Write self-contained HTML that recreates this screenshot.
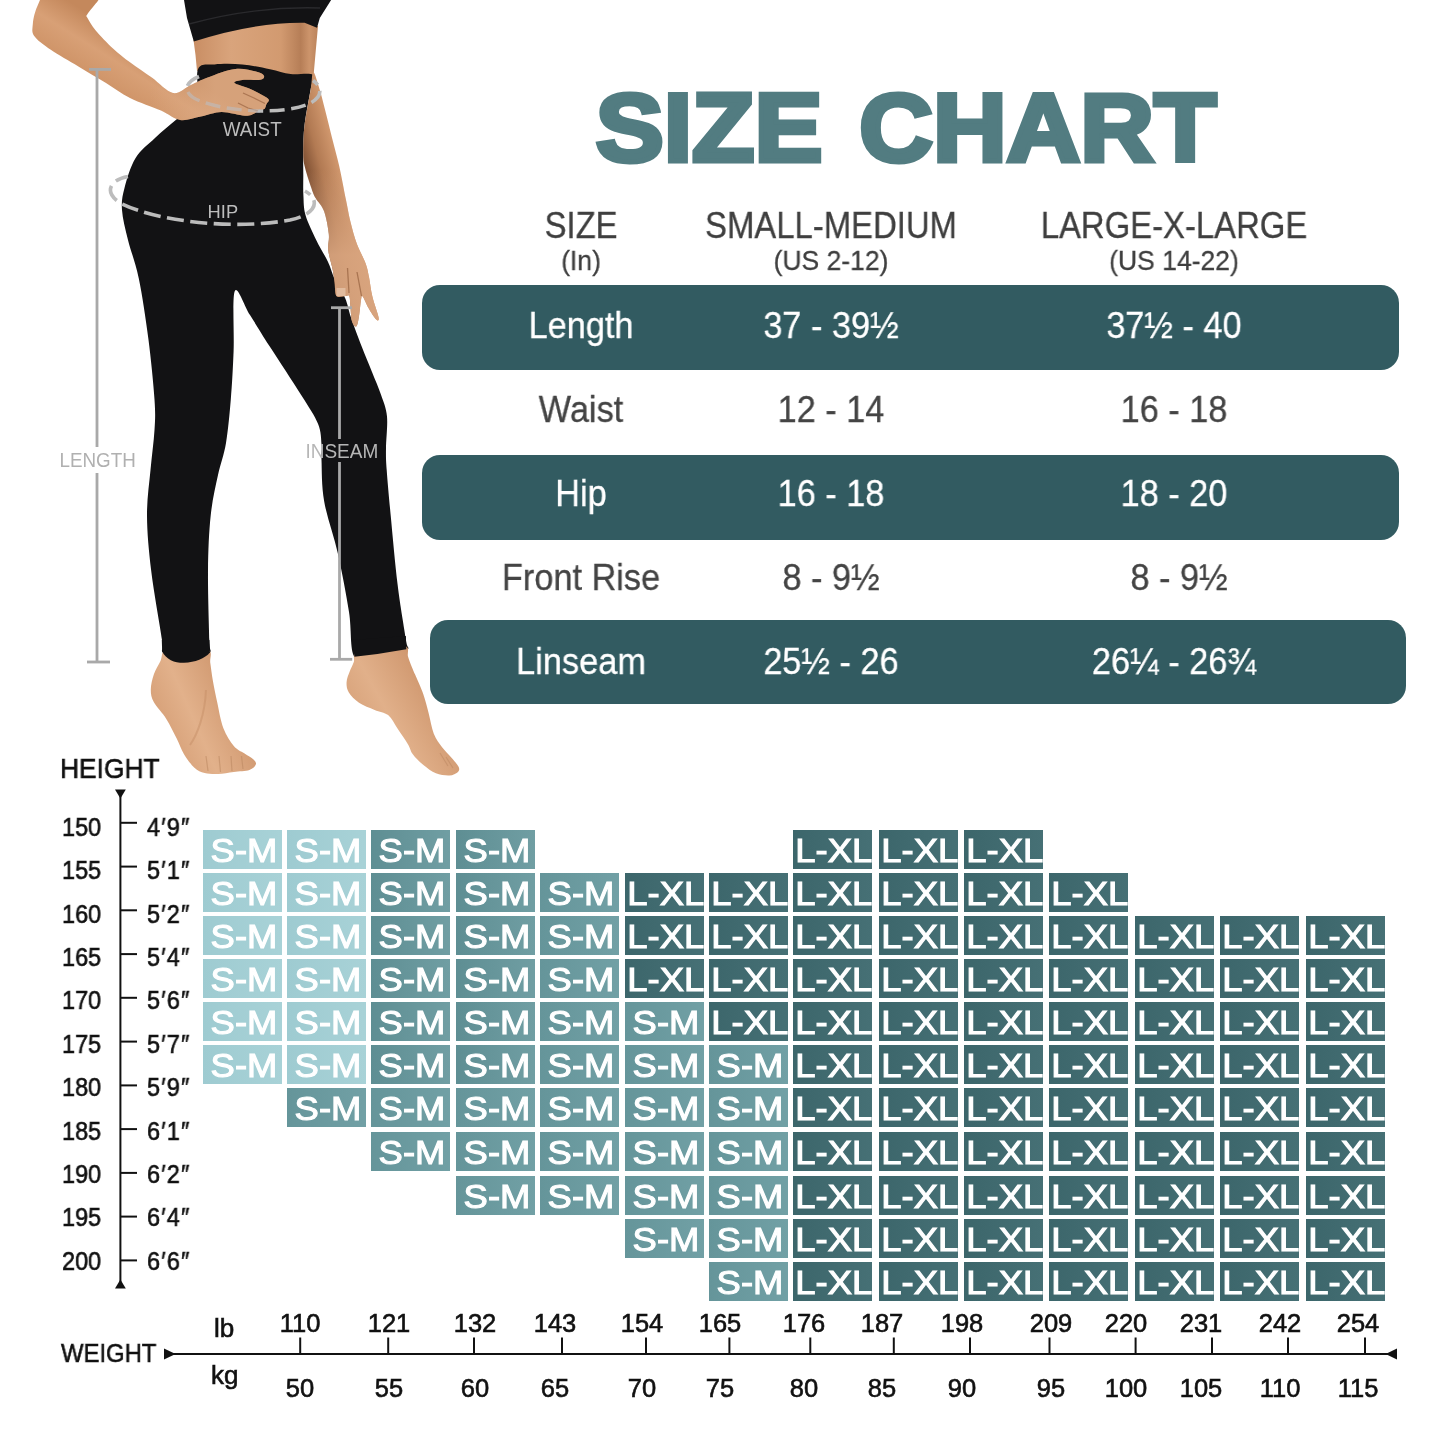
<!DOCTYPE html>
<html><head><meta charset="utf-8"><title>Size Chart</title>
<style>
*{margin:0;padding:0;box-sizing:border-box}
html,body{width:1445px;height:1445px;background:#fff;overflow:hidden}
body{position:relative;font-family:"Liberation Sans",sans-serif;}
.abs{position:absolute}
.t{position:absolute;white-space:nowrap;line-height:1;transform-origin:50% 50%;will-change:transform;}
.band{position:absolute;background:#325b61;border-radius:18px}
.c{position:absolute;will-change:transform;color:#fff;font-size:34px;line-height:41.4px;-webkit-text-stroke:1.1px #fff;letter-spacing:0;text-align:center;white-space:nowrap;overflow:hidden}
.c span{display:inline-block;transform:translateX(0.8px) scaleX(1.07)}
</style></head><body>

<svg class="abs" style="left:0;top:0;will-change:transform" width="500" height="800" viewBox="0 0 500 800">
<defs>
<linearGradient id="skA" gradientUnits="userSpaceOnUse" x1="80" y1="97" x2="120" y2="33"><stop offset="0" stop-color="#c08256"/><stop offset="0.3" stop-color="#cf9468"/><stop offset="0.65" stop-color="#d8a076"/><stop offset="1" stop-color="#c4885c"/></linearGradient>
<linearGradient id="skH" gradientUnits="userSpaceOnUse" x1="175" y1="120" x2="260" y2="70"><stop offset="0" stop-color="#cf9468"/><stop offset="0.5" stop-color="#dba57d"/><stop offset="1" stop-color="#d39a72"/></linearGradient>
<linearGradient id="skT" gradientUnits="userSpaceOnUse" x1="194" y1="0" x2="318" y2="0"><stop offset="0" stop-color="#c98e64"/><stop offset="0.3" stop-color="#d9a47c"/><stop offset="0.7" stop-color="#d29a70"/><stop offset="0.86" stop-color="#b67e57"/><stop offset="0.93" stop-color="#cc946b"/><stop offset="1" stop-color="#bb835b"/></linearGradient>
<linearGradient id="skR" gradientUnits="userSpaceOnUse" x1="303" y1="160" x2="345" y2="149"><stop offset="0" stop-color="#7f5033"/><stop offset="0.35" stop-color="#b27a53"/><stop offset="0.75" stop-color="#cf966c"/><stop offset="1" stop-color="#d8a27a"/></linearGradient>
<linearGradient id="skR2" gradientUnits="userSpaceOnUse" x1="328" y1="280" x2="375" y2="268"><stop offset="0" stop-color="#c18a63"/><stop offset="0.5" stop-color="#dca882"/><stop offset="1" stop-color="#cf976e"/></linearGradient>
<linearGradient id="skF" gradientUnits="userSpaceOnUse" x1="150" y1="730" x2="240" y2="690"><stop offset="0" stop-color="#d39b72"/><stop offset="0.45" stop-color="#e2b18b"/><stop offset="1" stop-color="#cd946b"/></linearGradient>
<linearGradient id="skG" gradientUnits="userSpaceOnUse" x1="350" y1="740" x2="440" y2="690"><stop offset="0" stop-color="#d49d74"/><stop offset="0.45" stop-color="#e1b08a"/><stop offset="1" stop-color="#cd946b"/></linearGradient>
<clipPath id="clipR"><rect x="295" y="60" width="100" height="172"/></clipPath>
<clipPath id="clipR2"><rect x="295" y="232" width="100" height="110"/></clipPath>
</defs>
<path d="M193.5,40.0L221.5,33.0L249.2,26.0L276.9,22.0L304.6,21.5L318.0,26.0L316.0,48.0L313.5,76.0L290.0,76.0L255.0,69.0L220.0,66.0L197.0,71.0L195.5,55.0Z" fill="url(#skT)"/>
<path d="M183.5,-3 L187,18 L193.8,41.5 Q255,22 304.6,22.8 L317,27.7 L319.8,18 L333,-3Z" fill="#121214"/>
<path d="M189,24 Q255,6 320,8" stroke="#2a2a2d" stroke-width="1.4" fill="none"/>
<path d="M198.0,69.2C200.9,62.4 207.2,65.2 214.6,64.4C222.0,63.6 233.1,63.6 242.3,64.4C251.5,65.2 261.9,67.6 270.0,69.2C278.1,70.8 283.5,73.1 290.7,74.0C297.9,74.9 309.6,72.4 313.0,74.8C316.4,77.2 312.2,80.3 310.8,88.6C309.4,96.9 305.9,114.0 304.6,124.6C303.3,135.2 303.4,143.8 303.2,152.2C303.0,160.6 303.3,167.8 303.3,175.0C303.3,182.2 303.0,188.9 303.4,195.6C303.8,202.3 303.4,207.6 305.5,215.0C307.6,222.4 312.5,232.2 316.2,240.0C319.9,247.8 324.7,255.0 327.8,261.5C330.9,268.0 331.7,272.8 334.6,278.9C337.5,285.0 342.5,291.9 345.2,298.3C347.9,304.8 348.3,309.6 351.0,317.6C353.7,325.6 358.1,337.2 361.6,346.3C365.1,355.4 368.8,363.9 372.0,372.0C375.2,380.1 378.5,387.3 381.0,394.7C383.5,402.1 386.2,407.6 387.0,416.5C387.8,425.4 386.1,439.1 386.0,448.0C385.9,456.9 385.9,458.8 386.7,470.0C387.5,481.2 388.9,496.3 390.7,515.4C392.5,534.5 395.1,563.8 397.6,584.6C400.1,605.4 404.4,629.2 405.9,640.0C407.3,650.8 411.2,646.9 406.3,649.2C401.4,651.5 385.4,652.6 376.7,653.9C368.0,655.2 359.0,663.8 354.4,656.8C349.8,649.8 351.7,629.1 349.0,612.0C346.3,594.9 342.1,572.4 338.0,554.0C333.9,535.6 326.9,517.2 324.2,501.5C321.4,485.8 321.9,469.4 321.5,460.0C321.1,450.6 322.2,451.0 321.6,445.0C321.0,439.0 321.4,432.2 318.0,423.8C314.6,415.4 309.1,407.6 301.0,394.7C292.9,381.8 278.1,359.6 269.6,346.3C261.1,333.0 255.8,324.2 250.0,315.0C244.2,305.8 237.5,285.0 234.8,291.0C232.1,297.0 234.3,332.9 233.6,351.0C232.9,369.1 232.1,384.2 230.8,399.5C229.5,414.8 228.1,430.4 226.0,443.0C223.9,455.6 220.6,462.9 218.0,475.0C215.4,487.1 212.4,499.4 210.7,515.4C209.0,531.4 208.2,549.9 208.0,570.7C207.8,591.5 209.0,626.4 209.3,640.0C209.6,653.6 212.0,649.2 209.9,652.5C207.8,655.8 201.7,658.3 197.0,660.0C192.3,661.7 186.4,662.8 181.9,662.5C177.4,662.2 173.3,659.9 170.0,658.0C166.7,656.1 163.5,654.4 162.2,651.4C160.9,648.4 163.8,653.5 162.0,640.0C160.2,626.5 153.7,591.5 151.2,570.7C148.7,549.9 147.1,532.2 147.0,515.4C146.9,498.6 149.2,484.2 150.5,470.0C151.8,455.8 153.8,441.8 154.5,430.0C155.2,418.2 155.5,414.7 154.5,399.5C153.5,384.3 151.0,359.2 148.4,339.0C145.8,318.8 142.2,294.9 138.8,278.4C135.4,261.9 130.8,251.4 128.0,240.0C125.2,228.6 122.6,218.7 122.0,210.0C121.4,201.3 122.2,196.7 124.5,188.0C126.8,179.3 130.5,166.3 135.6,158.0C140.7,149.7 148.1,144.5 155.0,138.0C161.9,131.5 170.0,124.5 177.0,119.0C184.0,113.5 193.5,113.3 197.0,105.0C200.5,96.7 195.1,76.0 198.0,69.2Z" fill="#121214"/>
<path d="M313.3,72.0C314.8,72.2 317.8,83.5 319.8,90.0C321.8,96.5 323.2,102.6 325.3,110.7C327.4,118.8 329.9,129.2 332.2,138.4C334.5,147.6 336.9,155.7 339.2,166.0C341.5,176.3 344.1,190.7 346.0,200.0C347.9,209.3 348.7,214.7 350.5,222.0C352.3,229.3 354.4,237.1 356.9,244.0C359.4,250.9 363.6,257.9 365.6,263.4C367.6,268.9 367.9,271.5 369.0,277.0C370.1,282.5 370.7,289.5 372.3,296.3C373.9,303.1 378.0,313.8 378.6,317.6C379.2,321.4 377.7,320.8 376.0,319.2C374.3,317.6 370.7,311.8 368.5,308.0C366.3,304.2 363.9,297.8 362.7,296.5C361.4,295.2 361.6,296.5 361.0,300.0C360.4,303.5 359.6,313.2 358.8,317.6C358.0,322.0 357.3,325.9 356.2,326.5C355.1,327.1 353.0,324.9 352.0,321.5C351.0,318.1 350.8,310.2 350.4,306.0C349.9,301.8 350.1,297.7 349.3,296.0C348.5,294.3 347.5,296.0 345.4,296.0C343.3,296.0 338.3,298.2 336.5,296.0C334.7,293.8 335.2,287.3 334.6,282.8C334.0,278.3 333.7,274.7 332.6,269.2C331.5,263.7 328.8,255.7 328.2,249.8C327.6,243.9 329.5,240.5 328.8,234.0C328.1,227.5 326.2,217.0 324.0,211.0C321.8,205.0 317.8,202.0 315.6,198.0C313.4,194.0 312.8,192.2 311.0,186.9C309.2,181.6 305.9,171.8 304.6,166.0C303.3,160.2 303.2,159.1 303.2,152.2C303.2,145.3 303.3,135.2 304.6,124.6C305.9,114.0 309.4,97.4 310.8,88.6C312.2,79.8 311.8,71.8 313.3,72.0Z" fill="url(#skR)"/>
<linearGradient id="skRf" gradientUnits="userSpaceOnUse" x1="0" y1="170" x2="0" y2="255"><stop offset="0" stop-color="#d9a57f" stop-opacity="0"/><stop offset="1" stop-color="#d9a57f" stop-opacity="0.9"/></linearGradient>
<path d="M313.3,72.0C314.8,72.2 317.8,83.5 319.8,90.0C321.8,96.5 323.2,102.6 325.3,110.7C327.4,118.8 329.9,129.2 332.2,138.4C334.5,147.6 336.9,155.7 339.2,166.0C341.5,176.3 344.1,190.7 346.0,200.0C347.9,209.3 348.7,214.7 350.5,222.0C352.3,229.3 354.4,237.1 356.9,244.0C359.4,250.9 363.6,257.9 365.6,263.4C367.6,268.9 367.9,271.5 369.0,277.0C370.1,282.5 370.7,289.5 372.3,296.3C373.9,303.1 378.0,313.8 378.6,317.6C379.2,321.4 377.7,320.8 376.0,319.2C374.3,317.6 370.7,311.8 368.5,308.0C366.3,304.2 363.9,297.8 362.7,296.5C361.4,295.2 361.6,296.5 361.0,300.0C360.4,303.5 359.6,313.2 358.8,317.6C358.0,322.0 357.3,325.9 356.2,326.5C355.1,327.1 353.0,324.9 352.0,321.5C351.0,318.1 350.8,310.2 350.4,306.0C349.9,301.8 350.1,297.7 349.3,296.0C348.5,294.3 347.5,296.0 345.4,296.0C343.3,296.0 338.3,298.2 336.5,296.0C334.7,293.8 335.2,287.3 334.6,282.8C334.0,278.3 333.7,274.7 332.6,269.2C331.5,263.7 328.8,255.7 328.2,249.8C327.6,243.9 329.5,240.5 328.8,234.0C328.1,227.5 326.2,217.0 324.0,211.0C321.8,205.0 317.8,202.0 315.6,198.0C313.4,194.0 312.8,192.2 311.0,186.9C309.2,181.6 305.9,171.8 304.6,166.0C303.3,160.2 303.2,159.1 303.2,152.2C303.2,145.3 303.3,135.2 304.6,124.6C305.9,114.0 309.4,97.4 310.8,88.6C312.2,79.8 311.8,71.8 313.3,72.0Z" fill="url(#skRf)"/>
<path d="M347.5,268 L349,293 M357,272 L361.5,296" stroke="#9a6543" stroke-width="1.3" fill="none" opacity="0.75"/>
<path d="M336.5,288 L345.5,288 L345.5,296 L336.5,296Z" fill="#e6c3a8" opacity="0.8"/>
<path d="M199,76.5 C181,84 184,96 203,102 C232,112.5 282,114 306,105 C322,99 324,88 313,80.5" stroke="#bcbcbc" stroke-width="3.6" fill="none" stroke-dasharray="15 6.5"/>
<path d="M47.0,-16.0C35.7,-13.5 42.4,-5.7 40.4,-1.0C38.4,3.7 36.5,7.8 35.2,12.0C33.9,16.2 33.0,20.2 32.8,24.2C32.6,28.2 31.2,31.7 34.2,36.0C37.2,40.3 43.4,44.7 50.8,49.8C58.2,54.9 69.2,60.9 78.4,66.4C87.6,71.9 97.4,77.7 106.0,83.0C114.6,88.3 120.8,93.4 130.0,98.0C139.2,102.6 152.7,106.9 161.0,110.6C169.3,114.3 173.4,119.0 180.0,120.0C186.6,121.0 193.9,117.9 200.8,116.6C207.7,115.3 214.1,112.1 221.5,112.0C228.9,111.9 239.5,115.6 245.0,115.8C250.5,116.0 252.4,114.2 254.7,113.2C257.0,112.2 257.4,110.2 259.0,109.5C260.6,108.8 263.1,109.8 264.4,108.9C265.6,108.0 265.8,105.5 266.5,104.0C267.2,102.5 269.4,101.1 268.8,99.7C268.2,98.3 266.3,97.3 263.0,95.5C259.7,93.7 253.9,90.7 249.2,88.6C244.4,86.5 235.7,84.4 234.5,83.0C233.3,81.6 238.0,80.5 242.3,80.0C246.6,79.5 256.7,80.5 260.3,79.8C263.9,79.1 264.5,77.3 264.0,76.0C263.5,74.7 262.3,73.2 257.5,72.0C252.7,70.8 243.7,68.1 235.4,69.0C227.1,69.9 215.1,74.8 207.7,77.5C200.3,80.2 196.8,82.4 191.0,85.0C185.2,87.6 179.5,94.2 173.0,93.0C166.5,91.8 159.0,82.7 151.8,77.6C144.6,72.5 136.5,67.2 130.0,62.3C123.5,57.4 118.7,53.7 113.0,48.4C107.3,43.1 100.0,35.5 95.7,30.4C91.5,25.3 88.9,20.7 87.5,18.0C86.1,15.3 85.5,17.2 87.5,14.0C89.5,10.8 95.8,4.0 99.2,-1.0C102.6,-6.0 116.7,-13.5 108.0,-16.0C99.3,-18.5 58.3,-18.5 47.0,-16.0Z" fill="url(#skA)"/>
<linearGradient id="skHf" gradientUnits="userSpaceOnUse" x1="150" y1="0" x2="215" y2="0"><stop offset="0" stop-color="#dcaa84" stop-opacity="0"/><stop offset="1" stop-color="#dcaa84" stop-opacity="0.75"/></linearGradient>
<path d="M47.0,-16.0C35.7,-13.5 42.4,-5.7 40.4,-1.0C38.4,3.7 36.5,7.8 35.2,12.0C33.9,16.2 33.0,20.2 32.8,24.2C32.6,28.2 31.2,31.7 34.2,36.0C37.2,40.3 43.4,44.7 50.8,49.8C58.2,54.9 69.2,60.9 78.4,66.4C87.6,71.9 97.4,77.7 106.0,83.0C114.6,88.3 120.8,93.4 130.0,98.0C139.2,102.6 152.7,106.9 161.0,110.6C169.3,114.3 173.4,119.0 180.0,120.0C186.6,121.0 193.9,117.9 200.8,116.6C207.7,115.3 214.1,112.1 221.5,112.0C228.9,111.9 239.5,115.6 245.0,115.8C250.5,116.0 252.4,114.2 254.7,113.2C257.0,112.2 257.4,110.2 259.0,109.5C260.6,108.8 263.1,109.8 264.4,108.9C265.6,108.0 265.8,105.5 266.5,104.0C267.2,102.5 269.4,101.1 268.8,99.7C268.2,98.3 266.3,97.3 263.0,95.5C259.7,93.7 253.9,90.7 249.2,88.6C244.4,86.5 235.7,84.4 234.5,83.0C233.3,81.6 238.0,80.5 242.3,80.0C246.6,79.5 256.7,80.5 260.3,79.8C263.9,79.1 264.5,77.3 264.0,76.0C263.5,74.7 262.3,73.2 257.5,72.0C252.7,70.8 243.7,68.1 235.4,69.0C227.1,69.9 215.1,74.8 207.7,77.5C200.3,80.2 196.8,82.4 191.0,85.0C185.2,87.6 179.5,94.2 173.0,93.0C166.5,91.8 159.0,82.7 151.8,77.6C144.6,72.5 136.5,67.2 130.0,62.3C123.5,57.4 118.7,53.7 113.0,48.4C107.3,43.1 100.0,35.5 95.7,30.4C91.5,25.3 88.9,20.7 87.5,18.0C86.1,15.3 85.5,17.2 87.5,14.0C89.5,10.8 95.8,4.0 99.2,-1.0C102.6,-6.0 116.7,-13.5 108.0,-16.0C99.3,-18.5 58.3,-18.5 47.0,-16.0Z" fill="url(#skHf)"/>
<path d="M243,93 L254,98 L265,103.5 M238,103 L248,108 L258,111" stroke="#9a6442" stroke-width="1.3" fill="none" opacity="0.7"/>
<clipPath id="clipD"><rect x="186" y="84" width="74" height="32"/></clipPath>
<path d="M199,76.5 C181,84 184,96 203,102 C232,112.5 282,114 306,105 C322,99 324,88 313,80.5" stroke="#b9c0c6" stroke-width="3.4" fill="none" stroke-dasharray="15 6.5" opacity="0.55" clip-path="url(#clipD)"/>
<path d="M165.0,650.0C168.6,648.5 174.8,652.0 182.0,652.0C189.2,652.0 203.6,648.2 208.3,650.0C213.0,651.8 209.5,657.8 210.3,663.0C211.1,668.2 211.8,675.0 213.0,681.5C214.2,688.0 215.5,694.5 217.2,702.3C218.9,710.1 220.6,720.9 223.4,728.2C226.2,735.5 230.3,741.7 233.8,745.9C237.3,750.1 240.9,751.0 244.2,753.2C247.5,755.5 251.6,757.5 253.5,759.4C255.4,761.3 256.5,762.8 255.8,764.6C255.1,766.4 253.1,768.8 249.4,770.0C245.7,771.2 239.0,771.3 233.8,772.0C228.6,772.7 223.0,773.8 218.2,774.0C213.3,774.2 208.7,774.0 204.7,773.0C200.7,772.0 197.8,770.8 194.4,767.7C191.0,764.6 186.9,759.1 184.0,754.2C181.1,749.4 179.6,744.5 176.7,738.6C173.8,732.7 170.1,725.0 166.3,718.9C162.5,712.8 156.5,707.1 153.9,702.3C151.3,697.4 150.8,694.5 150.8,689.8C150.8,685.1 152.3,679.1 153.9,674.3C155.5,669.5 158.7,665.0 160.5,661.0C162.3,657.0 161.4,651.5 165.0,650.0Z" fill="url(#skF)"/>
<path d="M206,756 L208,771 M219,756 L220.5,772 M231,756 L232,771 M241.5,756 L243,769" stroke="#b98660" stroke-width="1.2" fill="none" opacity="0.55"/>
<path d="M190,745 C197,735 205,715 206,690" stroke="#c38b63" stroke-width="2" fill="none" opacity="0.45"/>
<path d="M356.0,652.0C359.9,649.8 368.8,650.0 377.0,649.0C385.2,648.0 399.8,644.8 405.0,646.0C410.2,647.2 407.0,653.3 408.0,656.5C409.0,659.7 409.8,662.0 411.0,665.0C412.2,668.0 413.0,669.7 415.1,674.6C417.2,679.5 421.1,688.0 423.4,694.4C425.6,700.8 426.9,706.4 428.6,713.0C430.3,719.6 431.6,728.1 433.8,733.8C436.1,739.5 439.2,743.3 442.1,747.3C445.1,751.3 448.7,754.4 451.5,757.7C454.3,761.0 457.7,764.6 458.7,767.0C459.7,769.4 459.2,770.8 457.7,772.2C456.1,773.6 453.0,775.3 449.4,775.5C445.8,775.7 440.2,775.0 435.9,773.3C431.6,771.5 427.2,768.1 423.4,765.0C419.6,761.9 415.6,758.1 413.0,754.6C410.4,751.1 410.5,748.5 407.9,744.2C405.3,739.9 400.8,733.5 397.5,728.6C394.2,723.8 391.9,718.2 388.1,715.1C384.3,712.0 379.5,712.0 374.6,709.9C369.8,707.8 363.3,705.6 359.0,702.7C354.7,699.8 350.8,695.8 348.7,692.3C346.6,688.8 346.4,685.4 346.6,681.9C346.8,678.4 348.5,674.8 349.7,671.5C350.9,668.2 352.8,665.2 353.8,662.0C354.9,658.8 352.1,654.2 356.0,652.0Z" fill="url(#skG)"/>
<path d="M440,753 L448,766 M446,757 L453,768" stroke="#b98660" stroke-width="1.1" fill="none" opacity="0.5"/>
<path d="M161.8,640 L209.4,640 L209.9,652.5 C205,658.5 195,662.3 184,662.8 C175,663 166,659.5 162.2,651.4Z" fill="#121214"/>
<path d="M352.6,640 L405.9,636 L406.3,649.2 Q380,654 354.4,656.8Z" fill="#121214"/>
<g stroke="#a9a9a9" stroke-width="2.8" fill="none">
<line x1="97" y1="69" x2="97" y2="447"/><line x1="97" y1="473" x2="97" y2="662"/>
<line x1="89" y1="69.4" x2="111" y2="69.4"/><line x1="87" y1="662" x2="110" y2="662"/>
<line x1="339.5" y1="307.5" x2="339.5" y2="439"/><line x1="339.5" y1="462" x2="339.5" y2="659"/>
<line x1="331" y1="307.7" x2="352" y2="307.7"/><line x1="330" y1="659.3" x2="352.2" y2="659.3"/>
</g>
<g stroke="#bcbcbc" stroke-width="3.6" fill="none" stroke-dasharray="17 6.5">
<path d="M128,176.5 C108,180 104,194 122,204 C160,222 235,230 290,220 C318,214 320,199 305,191" stroke-dashoffset="4"/>
</g>
<text x="222.8" y="135.6" font-family="Liberation Sans, sans-serif" font-size="19.3" fill="#bdbdbd" transform="translate(222.8,0) scale(0.975,1) translate(-222.8,0)" text-anchor="start">WAIST</text>
<text x="207.6" y="218.1" font-family="Liberation Sans, sans-serif" font-size="18.8" fill="#bdbdbd" transform="translate(207.6,0) scale(0.975,1) translate(-207.6,0)" text-anchor="start">HIP</text>
<text x="59.5" y="466.6" font-family="Liberation Sans, sans-serif" font-size="19.3" fill="#b0b0b0" transform="translate(59.5,0) scale(0.975,1) translate(-59.5,0)" text-anchor="start">LENGTH</text>
<text x="305.4" y="457.8" font-family="Liberation Sans, sans-serif" font-size="19.5" fill="#b6b6b6" transform="translate(305.4,0) scale(0.975,1) translate(-305.4,0)" text-anchor="start">INSEAM</text>
</svg>
<div class="t" id="title" style="left:593px;top:79px;width:626px;text-align:center;font-size:97px;font-weight:bold;color:#527c81;-webkit-text-stroke:5px #527c81;word-spacing:8px;transform:scaleX(1.052)">SIZE CHART</div>
<div class="t" style="left:281px;top:208.1px;width:600px;text-align:center;font-size:36.5px;color:#3f3f3f;transform:scaleX(0.9);-webkit-text-stroke:0.3px currentColor;">SIZE</div>
<div class="t" style="left:281px;top:246.2px;width:600px;text-align:center;font-size:28.5px;color:#3f3f3f;transform:scaleX(0.93);-webkit-text-stroke:0.3px currentColor;">(In)</div>
<div class="t" style="left:531px;top:208.1px;width:600px;text-align:center;font-size:36.5px;color:#3f3f3f;transform:scaleX(0.9);-webkit-text-stroke:0.3px currentColor;">SMALL-MEDIUM</div>
<div class="t" style="left:531px;top:246.2px;width:600px;text-align:center;font-size:28.5px;color:#3f3f3f;transform:scaleX(0.93);-webkit-text-stroke:0.3px currentColor;">(US 2-12)</div>
<div class="t" style="left:874px;top:208.1px;width:600px;text-align:center;font-size:36.5px;color:#3f3f3f;transform:scaleX(0.9);-webkit-text-stroke:0.3px currentColor;">LARGE-X-LARGE</div>
<div class="t" style="left:874px;top:246.2px;width:600px;text-align:center;font-size:28.5px;color:#3f3f3f;transform:scaleX(0.93);-webkit-text-stroke:0.3px currentColor;">(US 14-22)</div>
<div class="band" style="left:422px;top:285px;width:977px;height:85px"></div>
<div class="band" style="left:422px;top:455px;width:977px;height:84.5px"></div>
<div class="band" style="left:430px;top:619.5px;width:976px;height:84.5px"></div>
<div class="t" style="left:281px;top:307.4px;width:600px;text-align:center;font-size:37.3px;color:#fff;transform:scaleX(0.92);-webkit-text-stroke:0.3px currentColor;">Length</div>
<div class="t" style="left:531px;top:307.4px;width:600px;text-align:center;font-size:37.3px;color:#fff;transform:scaleX(0.92);-webkit-text-stroke:0.3px currentColor;">37 - 39½</div>
<div class="t" style="left:874px;top:307.4px;width:600px;text-align:center;font-size:37.3px;color:#fff;transform:scaleX(0.92);-webkit-text-stroke:0.3px currentColor;">37½ - 40</div>
<div class="t" style="left:281px;top:391.4px;width:600px;text-align:center;font-size:37.3px;color:#444;transform:scaleX(0.92);-webkit-text-stroke:0.3px currentColor;">Waist</div>
<div class="t" style="left:531px;top:391.4px;width:600px;text-align:center;font-size:37.3px;color:#444;transform:scaleX(0.92);-webkit-text-stroke:0.3px currentColor;">12 - 14</div>
<div class="t" style="left:874px;top:391.4px;width:600px;text-align:center;font-size:37.3px;color:#444;transform:scaleX(0.92);-webkit-text-stroke:0.3px currentColor;">16 - 18</div>
<div class="t" style="left:281px;top:475.4px;width:600px;text-align:center;font-size:37.3px;color:#fff;transform:scaleX(0.92);-webkit-text-stroke:0.3px currentColor;">Hip</div>
<div class="t" style="left:531px;top:475.4px;width:600px;text-align:center;font-size:37.3px;color:#fff;transform:scaleX(0.92);-webkit-text-stroke:0.3px currentColor;">16 - 18</div>
<div class="t" style="left:874px;top:475.4px;width:600px;text-align:center;font-size:37.3px;color:#fff;transform:scaleX(0.92);-webkit-text-stroke:0.3px currentColor;">18 - 20</div>
<div class="t" style="left:281px;top:559.4px;width:600px;text-align:center;font-size:37.3px;color:#444;transform:scaleX(0.92);-webkit-text-stroke:0.3px currentColor;">Front Rise</div>
<div class="t" style="left:531px;top:559.4px;width:600px;text-align:center;font-size:37.3px;color:#444;transform:scaleX(0.92);-webkit-text-stroke:0.3px currentColor;">8 - 9½</div>
<div class="t" style="left:879px;top:559.4px;width:600px;text-align:center;font-size:37.3px;color:#444;transform:scaleX(0.92);-webkit-text-stroke:0.3px currentColor;">8 - 9½</div>
<div class="t" style="left:281px;top:643.4px;width:600px;text-align:center;font-size:37.3px;color:#fff;transform:scaleX(0.92);-webkit-text-stroke:0.3px currentColor;">Linseam</div>
<div class="t" style="left:531px;top:643.4px;width:600px;text-align:center;font-size:37.3px;color:#fff;transform:scaleX(0.92);-webkit-text-stroke:0.3px currentColor;">25½ - 26</div>
<div class="t" style="left:874px;top:643.4px;width:600px;text-align:center;font-size:37.3px;color:#fff;transform:scaleX(0.92);-webkit-text-stroke:0.3px currentColor;">26¼ - 26¾</div>
<div class="c" style="left:202.5px;top:830.4px;width:79.4px;height:38.9px;background:linear-gradient(90deg,#9ecbd1,#a8d2d7)"><span>S-M</span></div>
<div class="c" style="left:287.2px;top:830.4px;width:79.4px;height:38.9px;background:linear-gradient(90deg,#9ecbd1,#a8d2d7)"><span>S-M</span></div>
<div class="c" style="left:371.3px;top:830.4px;width:79.4px;height:38.9px;background:linear-gradient(90deg,#5e8e93,#709ea3)"><span>S-M</span></div>
<div class="c" style="left:456.0px;top:830.4px;width:79.4px;height:38.9px;background:linear-gradient(90deg,#5e8e93,#709ea3)"><span>S-M</span></div>
<div class="c" style="left:793.2px;top:830.4px;width:79.4px;height:38.9px;background:linear-gradient(90deg,#3c666b,#467075)"><span>L-XL</span></div>
<div class="c" style="left:878.7px;top:830.4px;width:79.4px;height:38.9px;background:linear-gradient(90deg,#3c666b,#467075)"><span>L-XL</span></div>
<div class="c" style="left:963.9px;top:830.4px;width:79.4px;height:38.9px;background:linear-gradient(90deg,#3c666b,#467075)"><span>L-XL</span></div>
<div class="c" style="left:202.5px;top:873.1px;width:79.4px;height:38.9px;background:linear-gradient(90deg,#9ecbd1,#a8d2d7)"><span>S-M</span></div>
<div class="c" style="left:287.2px;top:873.1px;width:79.4px;height:38.9px;background:linear-gradient(90deg,#9ecbd1,#a8d2d7)"><span>S-M</span></div>
<div class="c" style="left:371.3px;top:873.1px;width:79.4px;height:38.9px;background:linear-gradient(90deg,#5e8e93,#709ea3)"><span>S-M</span></div>
<div class="c" style="left:456.0px;top:873.1px;width:79.4px;height:38.9px;background:linear-gradient(90deg,#5e8e93,#709ea3)"><span>S-M</span></div>
<div class="c" style="left:540.0px;top:873.1px;width:79.4px;height:38.9px;background:linear-gradient(90deg,#65959a,#71a0a5)"><span>S-M</span></div>
<div class="c" style="left:624.6px;top:873.1px;width:79.4px;height:38.9px;background:linear-gradient(90deg,#3c666b,#467075)"><span>L-XL</span></div>
<div class="c" style="left:708.6px;top:873.1px;width:79.4px;height:38.9px;background:linear-gradient(90deg,#3c666b,#467075)"><span>L-XL</span></div>
<div class="c" style="left:793.2px;top:873.1px;width:79.4px;height:38.9px;background:linear-gradient(90deg,#3c666b,#467075)"><span>L-XL</span></div>
<div class="c" style="left:878.7px;top:873.1px;width:79.4px;height:38.9px;background:linear-gradient(90deg,#3c666b,#467075)"><span>L-XL</span></div>
<div class="c" style="left:963.9px;top:873.1px;width:79.4px;height:38.9px;background:linear-gradient(90deg,#3c666b,#467075)"><span>L-XL</span></div>
<div class="c" style="left:1049.4px;top:873.1px;width:79.4px;height:38.9px;background:linear-gradient(90deg,#3c666b,#467075)"><span>L-XL</span></div>
<div class="c" style="left:202.5px;top:916.1px;width:79.4px;height:38.9px;background:linear-gradient(90deg,#9ecbd1,#a8d2d7)"><span>S-M</span></div>
<div class="c" style="left:287.2px;top:916.1px;width:79.4px;height:38.9px;background:linear-gradient(90deg,#9ecbd1,#a8d2d7)"><span>S-M</span></div>
<div class="c" style="left:371.3px;top:916.1px;width:79.4px;height:38.9px;background:linear-gradient(90deg,#5e8e93,#709ea3)"><span>S-M</span></div>
<div class="c" style="left:456.0px;top:916.1px;width:79.4px;height:38.9px;background:linear-gradient(90deg,#5e8e93,#709ea3)"><span>S-M</span></div>
<div class="c" style="left:540.0px;top:916.1px;width:79.4px;height:38.9px;background:linear-gradient(90deg,#65959a,#71a0a5)"><span>S-M</span></div>
<div class="c" style="left:624.6px;top:916.1px;width:79.4px;height:38.9px;background:linear-gradient(90deg,#3c666b,#467075)"><span>L-XL</span></div>
<div class="c" style="left:708.6px;top:916.1px;width:79.4px;height:38.9px;background:linear-gradient(90deg,#3c666b,#467075)"><span>L-XL</span></div>
<div class="c" style="left:793.2px;top:916.1px;width:79.4px;height:38.9px;background:linear-gradient(90deg,#3c666b,#467075)"><span>L-XL</span></div>
<div class="c" style="left:878.7px;top:916.1px;width:79.4px;height:38.9px;background:linear-gradient(90deg,#3c666b,#467075)"><span>L-XL</span></div>
<div class="c" style="left:963.9px;top:916.1px;width:79.4px;height:38.9px;background:linear-gradient(90deg,#3c666b,#467075)"><span>L-XL</span></div>
<div class="c" style="left:1049.4px;top:916.1px;width:79.4px;height:38.9px;background:linear-gradient(90deg,#3c666b,#467075)"><span>L-XL</span></div>
<div class="c" style="left:1135.3px;top:916.1px;width:79.4px;height:38.9px;background:linear-gradient(90deg,#3c666b,#467075)"><span>L-XL</span></div>
<div class="c" style="left:1220.0px;top:916.1px;width:79.4px;height:38.9px;background:linear-gradient(90deg,#3c666b,#467075)"><span>L-XL</span></div>
<div class="c" style="left:1305.6px;top:916.1px;width:79.4px;height:38.9px;background:linear-gradient(90deg,#3c666b,#467075)"><span>L-XL</span></div>
<div class="c" style="left:202.5px;top:958.8px;width:79.4px;height:38.9px;background:linear-gradient(90deg,#9ecbd1,#a8d2d7)"><span>S-M</span></div>
<div class="c" style="left:287.2px;top:958.8px;width:79.4px;height:38.9px;background:linear-gradient(90deg,#9ecbd1,#a8d2d7)"><span>S-M</span></div>
<div class="c" style="left:371.3px;top:958.8px;width:79.4px;height:38.9px;background:linear-gradient(90deg,#5e8e93,#709ea3)"><span>S-M</span></div>
<div class="c" style="left:456.0px;top:958.8px;width:79.4px;height:38.9px;background:linear-gradient(90deg,#5e8e93,#709ea3)"><span>S-M</span></div>
<div class="c" style="left:540.0px;top:958.8px;width:79.4px;height:38.9px;background:linear-gradient(90deg,#65959a,#71a0a5)"><span>S-M</span></div>
<div class="c" style="left:624.6px;top:958.8px;width:79.4px;height:38.9px;background:linear-gradient(90deg,#3c666b,#467075)"><span>L-XL</span></div>
<div class="c" style="left:708.6px;top:958.8px;width:79.4px;height:38.9px;background:linear-gradient(90deg,#3c666b,#467075)"><span>L-XL</span></div>
<div class="c" style="left:793.2px;top:958.8px;width:79.4px;height:38.9px;background:linear-gradient(90deg,#3c666b,#467075)"><span>L-XL</span></div>
<div class="c" style="left:878.7px;top:958.8px;width:79.4px;height:38.9px;background:linear-gradient(90deg,#3c666b,#467075)"><span>L-XL</span></div>
<div class="c" style="left:963.9px;top:958.8px;width:79.4px;height:38.9px;background:linear-gradient(90deg,#3c666b,#467075)"><span>L-XL</span></div>
<div class="c" style="left:1049.4px;top:958.8px;width:79.4px;height:38.9px;background:linear-gradient(90deg,#3c666b,#467075)"><span>L-XL</span></div>
<div class="c" style="left:1135.3px;top:958.8px;width:79.4px;height:38.9px;background:linear-gradient(90deg,#3c666b,#467075)"><span>L-XL</span></div>
<div class="c" style="left:1220.0px;top:958.8px;width:79.4px;height:38.9px;background:linear-gradient(90deg,#3c666b,#467075)"><span>L-XL</span></div>
<div class="c" style="left:1305.6px;top:958.8px;width:79.4px;height:38.9px;background:linear-gradient(90deg,#3c666b,#467075)"><span>L-XL</span></div>
<div class="c" style="left:202.5px;top:1002.2px;width:79.4px;height:38.9px;background:linear-gradient(90deg,#9ecbd1,#a8d2d7)"><span>S-M</span></div>
<div class="c" style="left:287.2px;top:1002.2px;width:79.4px;height:38.9px;background:linear-gradient(90deg,#9ecbd1,#a8d2d7)"><span>S-M</span></div>
<div class="c" style="left:371.3px;top:1002.2px;width:79.4px;height:38.9px;background:linear-gradient(90deg,#5e8e93,#709ea3)"><span>S-M</span></div>
<div class="c" style="left:456.0px;top:1002.2px;width:79.4px;height:38.9px;background:linear-gradient(90deg,#5e8e93,#709ea3)"><span>S-M</span></div>
<div class="c" style="left:540.0px;top:1002.2px;width:79.4px;height:38.9px;background:linear-gradient(90deg,#65959a,#71a0a5)"><span>S-M</span></div>
<div class="c" style="left:624.6px;top:1002.2px;width:79.4px;height:38.9px;background:linear-gradient(90deg,#65959a,#71a0a5)"><span>S-M</span></div>
<div class="c" style="left:708.6px;top:1002.2px;width:79.4px;height:38.9px;background:linear-gradient(90deg,#3c666b,#467075)"><span>L-XL</span></div>
<div class="c" style="left:793.2px;top:1002.2px;width:79.4px;height:38.9px;background:linear-gradient(90deg,#3c666b,#467075)"><span>L-XL</span></div>
<div class="c" style="left:878.7px;top:1002.2px;width:79.4px;height:38.9px;background:linear-gradient(90deg,#3c666b,#467075)"><span>L-XL</span></div>
<div class="c" style="left:963.9px;top:1002.2px;width:79.4px;height:38.9px;background:linear-gradient(90deg,#3c666b,#467075)"><span>L-XL</span></div>
<div class="c" style="left:1049.4px;top:1002.2px;width:79.4px;height:38.9px;background:linear-gradient(90deg,#3c666b,#467075)"><span>L-XL</span></div>
<div class="c" style="left:1135.3px;top:1002.2px;width:79.4px;height:38.9px;background:linear-gradient(90deg,#3c666b,#467075)"><span>L-XL</span></div>
<div class="c" style="left:1220.0px;top:1002.2px;width:79.4px;height:38.9px;background:linear-gradient(90deg,#3c666b,#467075)"><span>L-XL</span></div>
<div class="c" style="left:1305.6px;top:1002.2px;width:79.4px;height:38.9px;background:linear-gradient(90deg,#3c666b,#467075)"><span>L-XL</span></div>
<div class="c" style="left:202.5px;top:1044.8px;width:79.4px;height:38.9px;background:linear-gradient(90deg,#9ecbd1,#a8d2d7)"><span>S-M</span></div>
<div class="c" style="left:287.2px;top:1044.8px;width:79.4px;height:38.9px;background:linear-gradient(90deg,#9ecbd1,#a8d2d7)"><span>S-M</span></div>
<div class="c" style="left:371.3px;top:1044.8px;width:79.4px;height:38.9px;background:linear-gradient(90deg,#5e8e93,#709ea3)"><span>S-M</span></div>
<div class="c" style="left:456.0px;top:1044.8px;width:79.4px;height:38.9px;background:linear-gradient(90deg,#5e8e93,#709ea3)"><span>S-M</span></div>
<div class="c" style="left:540.0px;top:1044.8px;width:79.4px;height:38.9px;background:linear-gradient(90deg,#65959a,#71a0a5)"><span>S-M</span></div>
<div class="c" style="left:624.6px;top:1044.8px;width:79.4px;height:38.9px;background:linear-gradient(90deg,#65959a,#71a0a5)"><span>S-M</span></div>
<div class="c" style="left:708.6px;top:1044.8px;width:79.4px;height:38.9px;background:linear-gradient(90deg,#65959a,#71a0a5)"><span>S-M</span></div>
<div class="c" style="left:793.2px;top:1044.8px;width:79.4px;height:38.9px;background:linear-gradient(90deg,#3c666b,#467075)"><span>L-XL</span></div>
<div class="c" style="left:878.7px;top:1044.8px;width:79.4px;height:38.9px;background:linear-gradient(90deg,#3c666b,#467075)"><span>L-XL</span></div>
<div class="c" style="left:963.9px;top:1044.8px;width:79.4px;height:38.9px;background:linear-gradient(90deg,#3c666b,#467075)"><span>L-XL</span></div>
<div class="c" style="left:1049.4px;top:1044.8px;width:79.4px;height:38.9px;background:linear-gradient(90deg,#3c666b,#467075)"><span>L-XL</span></div>
<div class="c" style="left:1135.3px;top:1044.8px;width:79.4px;height:38.9px;background:linear-gradient(90deg,#3c666b,#467075)"><span>L-XL</span></div>
<div class="c" style="left:1220.0px;top:1044.8px;width:79.4px;height:38.9px;background:linear-gradient(90deg,#3c666b,#467075)"><span>L-XL</span></div>
<div class="c" style="left:1305.6px;top:1044.8px;width:79.4px;height:38.9px;background:linear-gradient(90deg,#3c666b,#467075)"><span>L-XL</span></div>
<div class="c" style="left:287.2px;top:1088.0px;width:79.4px;height:38.9px;background:linear-gradient(90deg,#65959a,#71a0a5)"><span>S-M</span></div>
<div class="c" style="left:371.3px;top:1088.0px;width:79.4px;height:38.9px;background:linear-gradient(90deg,#65959a,#71a0a5)"><span>S-M</span></div>
<div class="c" style="left:456.0px;top:1088.0px;width:79.4px;height:38.9px;background:linear-gradient(90deg,#65959a,#71a0a5)"><span>S-M</span></div>
<div class="c" style="left:540.0px;top:1088.0px;width:79.4px;height:38.9px;background:linear-gradient(90deg,#65959a,#71a0a5)"><span>S-M</span></div>
<div class="c" style="left:624.6px;top:1088.0px;width:79.4px;height:38.9px;background:linear-gradient(90deg,#65959a,#71a0a5)"><span>S-M</span></div>
<div class="c" style="left:708.6px;top:1088.0px;width:79.4px;height:38.9px;background:linear-gradient(90deg,#65959a,#71a0a5)"><span>S-M</span></div>
<div class="c" style="left:793.2px;top:1088.0px;width:79.4px;height:38.9px;background:linear-gradient(90deg,#3c666b,#467075)"><span>L-XL</span></div>
<div class="c" style="left:878.7px;top:1088.0px;width:79.4px;height:38.9px;background:linear-gradient(90deg,#3c666b,#467075)"><span>L-XL</span></div>
<div class="c" style="left:963.9px;top:1088.0px;width:79.4px;height:38.9px;background:linear-gradient(90deg,#3c666b,#467075)"><span>L-XL</span></div>
<div class="c" style="left:1049.4px;top:1088.0px;width:79.4px;height:38.9px;background:linear-gradient(90deg,#3c666b,#467075)"><span>L-XL</span></div>
<div class="c" style="left:1135.3px;top:1088.0px;width:79.4px;height:38.9px;background:linear-gradient(90deg,#3c666b,#467075)"><span>L-XL</span></div>
<div class="c" style="left:1220.0px;top:1088.0px;width:79.4px;height:38.9px;background:linear-gradient(90deg,#3c666b,#467075)"><span>L-XL</span></div>
<div class="c" style="left:1305.6px;top:1088.0px;width:79.4px;height:38.9px;background:linear-gradient(90deg,#3c666b,#467075)"><span>L-XL</span></div>
<div class="c" style="left:371.3px;top:1132.0px;width:79.4px;height:38.9px;background:linear-gradient(90deg,#65959a,#71a0a5)"><span>S-M</span></div>
<div class="c" style="left:456.0px;top:1132.0px;width:79.4px;height:38.9px;background:linear-gradient(90deg,#65959a,#71a0a5)"><span>S-M</span></div>
<div class="c" style="left:540.0px;top:1132.0px;width:79.4px;height:38.9px;background:linear-gradient(90deg,#65959a,#71a0a5)"><span>S-M</span></div>
<div class="c" style="left:624.6px;top:1132.0px;width:79.4px;height:38.9px;background:linear-gradient(90deg,#65959a,#71a0a5)"><span>S-M</span></div>
<div class="c" style="left:708.6px;top:1132.0px;width:79.4px;height:38.9px;background:linear-gradient(90deg,#65959a,#71a0a5)"><span>S-M</span></div>
<div class="c" style="left:793.2px;top:1132.0px;width:79.4px;height:38.9px;background:linear-gradient(90deg,#3c666b,#467075)"><span>L-XL</span></div>
<div class="c" style="left:878.7px;top:1132.0px;width:79.4px;height:38.9px;background:linear-gradient(90deg,#3c666b,#467075)"><span>L-XL</span></div>
<div class="c" style="left:963.9px;top:1132.0px;width:79.4px;height:38.9px;background:linear-gradient(90deg,#3c666b,#467075)"><span>L-XL</span></div>
<div class="c" style="left:1049.4px;top:1132.0px;width:79.4px;height:38.9px;background:linear-gradient(90deg,#3c666b,#467075)"><span>L-XL</span></div>
<div class="c" style="left:1135.3px;top:1132.0px;width:79.4px;height:38.9px;background:linear-gradient(90deg,#3c666b,#467075)"><span>L-XL</span></div>
<div class="c" style="left:1220.0px;top:1132.0px;width:79.4px;height:38.9px;background:linear-gradient(90deg,#3c666b,#467075)"><span>L-XL</span></div>
<div class="c" style="left:1305.6px;top:1132.0px;width:79.4px;height:38.9px;background:linear-gradient(90deg,#3c666b,#467075)"><span>L-XL</span></div>
<div class="c" style="left:456.0px;top:1175.6px;width:79.4px;height:38.9px;background:linear-gradient(90deg,#65959a,#71a0a5)"><span>S-M</span></div>
<div class="c" style="left:540.0px;top:1175.6px;width:79.4px;height:38.9px;background:linear-gradient(90deg,#65959a,#71a0a5)"><span>S-M</span></div>
<div class="c" style="left:624.6px;top:1175.6px;width:79.4px;height:38.9px;background:linear-gradient(90deg,#65959a,#71a0a5)"><span>S-M</span></div>
<div class="c" style="left:708.6px;top:1175.6px;width:79.4px;height:38.9px;background:linear-gradient(90deg,#65959a,#71a0a5)"><span>S-M</span></div>
<div class="c" style="left:793.2px;top:1175.6px;width:79.4px;height:38.9px;background:linear-gradient(90deg,#3c666b,#467075)"><span>L-XL</span></div>
<div class="c" style="left:878.7px;top:1175.6px;width:79.4px;height:38.9px;background:linear-gradient(90deg,#3c666b,#467075)"><span>L-XL</span></div>
<div class="c" style="left:963.9px;top:1175.6px;width:79.4px;height:38.9px;background:linear-gradient(90deg,#3c666b,#467075)"><span>L-XL</span></div>
<div class="c" style="left:1049.4px;top:1175.6px;width:79.4px;height:38.9px;background:linear-gradient(90deg,#3c666b,#467075)"><span>L-XL</span></div>
<div class="c" style="left:1135.3px;top:1175.6px;width:79.4px;height:38.9px;background:linear-gradient(90deg,#3c666b,#467075)"><span>L-XL</span></div>
<div class="c" style="left:1220.0px;top:1175.6px;width:79.4px;height:38.9px;background:linear-gradient(90deg,#3c666b,#467075)"><span>L-XL</span></div>
<div class="c" style="left:1305.6px;top:1175.6px;width:79.4px;height:38.9px;background:linear-gradient(90deg,#3c666b,#467075)"><span>L-XL</span></div>
<div class="c" style="left:624.6px;top:1218.7px;width:79.4px;height:38.9px;background:linear-gradient(90deg,#65959a,#71a0a5)"><span>S-M</span></div>
<div class="c" style="left:708.6px;top:1218.7px;width:79.4px;height:38.9px;background:linear-gradient(90deg,#65959a,#71a0a5)"><span>S-M</span></div>
<div class="c" style="left:793.2px;top:1218.7px;width:79.4px;height:38.9px;background:linear-gradient(90deg,#3c666b,#467075)"><span>L-XL</span></div>
<div class="c" style="left:878.7px;top:1218.7px;width:79.4px;height:38.9px;background:linear-gradient(90deg,#3c666b,#467075)"><span>L-XL</span></div>
<div class="c" style="left:963.9px;top:1218.7px;width:79.4px;height:38.9px;background:linear-gradient(90deg,#3c666b,#467075)"><span>L-XL</span></div>
<div class="c" style="left:1049.4px;top:1218.7px;width:79.4px;height:38.9px;background:linear-gradient(90deg,#3c666b,#467075)"><span>L-XL</span></div>
<div class="c" style="left:1135.3px;top:1218.7px;width:79.4px;height:38.9px;background:linear-gradient(90deg,#3c666b,#467075)"><span>L-XL</span></div>
<div class="c" style="left:1220.0px;top:1218.7px;width:79.4px;height:38.9px;background:linear-gradient(90deg,#3c666b,#467075)"><span>L-XL</span></div>
<div class="c" style="left:1305.6px;top:1218.7px;width:79.4px;height:38.9px;background:linear-gradient(90deg,#3c666b,#467075)"><span>L-XL</span></div>
<div class="c" style="left:708.6px;top:1262.1px;width:79.4px;height:38.9px;background:linear-gradient(90deg,#65959a,#71a0a5)"><span>S-M</span></div>
<div class="c" style="left:793.2px;top:1262.1px;width:79.4px;height:38.9px;background:linear-gradient(90deg,#3c666b,#467075)"><span>L-XL</span></div>
<div class="c" style="left:878.7px;top:1262.1px;width:79.4px;height:38.9px;background:linear-gradient(90deg,#3c666b,#467075)"><span>L-XL</span></div>
<div class="c" style="left:963.9px;top:1262.1px;width:79.4px;height:38.9px;background:linear-gradient(90deg,#3c666b,#467075)"><span>L-XL</span></div>
<div class="c" style="left:1049.4px;top:1262.1px;width:79.4px;height:38.9px;background:linear-gradient(90deg,#3c666b,#467075)"><span>L-XL</span></div>
<div class="c" style="left:1135.3px;top:1262.1px;width:79.4px;height:38.9px;background:linear-gradient(90deg,#3c666b,#467075)"><span>L-XL</span></div>
<div class="c" style="left:1220.0px;top:1262.1px;width:79.4px;height:38.9px;background:linear-gradient(90deg,#3c666b,#467075)"><span>L-XL</span></div>
<div class="c" style="left:1305.6px;top:1262.1px;width:79.4px;height:38.9px;background:linear-gradient(90deg,#3c666b,#467075)"><span>L-XL</span></div>
<svg class="abs" style="left:0;top:0" width="1445" height="1445" viewBox="0 0 1445 1445">
<g stroke="#111" stroke-width="2" fill="none">
<line x1="120.4" y1="795" x2="120.4" y2="1282"/>
<line x1="120.4" y1="822.8" x2="137" y2="822.8"/>
<line x1="120.4" y1="866.6" x2="137" y2="866.6"/>
<line x1="120.4" y1="910.3" x2="137" y2="910.3"/>
<line x1="120.4" y1="954.1" x2="137" y2="954.1"/>
<line x1="120.4" y1="997.8" x2="137" y2="997.8"/>
<line x1="120.4" y1="1041.6" x2="137" y2="1041.6"/>
<line x1="120.4" y1="1085.4" x2="137" y2="1085.4"/>
<line x1="120.4" y1="1129.1" x2="137" y2="1129.1"/>
<line x1="120.4" y1="1172.9" x2="137" y2="1172.9"/>
<line x1="120.4" y1="1216.6" x2="137" y2="1216.6"/>
<line x1="120.4" y1="1260.4" x2="137" y2="1260.4"/>
<line x1="172" y1="1354" x2="1390" y2="1354"/>
<line x1="300.2" y1="1337.5" x2="300.2" y2="1354"/>
<line x1="388.2" y1="1337.5" x2="388.2" y2="1354"/>
<line x1="474" y1="1337.5" x2="474" y2="1354"/>
<line x1="562" y1="1337.5" x2="562" y2="1354"/>
<line x1="646" y1="1337.5" x2="646" y2="1354"/>
<line x1="729.4" y1="1337.5" x2="729.4" y2="1354"/>
<line x1="810.3" y1="1337.5" x2="810.3" y2="1354"/>
<line x1="893.8" y1="1337.5" x2="893.8" y2="1354"/>
<line x1="970" y1="1337.5" x2="970" y2="1354"/>
<line x1="1049.5" y1="1337.5" x2="1049.5" y2="1354"/>
<line x1="1135.6" y1="1337.5" x2="1135.6" y2="1354"/>
<line x1="1212" y1="1337.5" x2="1212" y2="1354"/>
<line x1="1288" y1="1337.5" x2="1288" y2="1354"/>
<line x1="1365" y1="1337.5" x2="1365" y2="1354"/>
</g>
<g fill="#111">
<polygon points="115,789.4 125.8,789.4 120.4,798.5"/>
<polygon points="115,1288.4 125.8,1288.4 120.4,1279.4"/>
<polygon points="164,1348.6 164,1359.4 175.6,1354"/>
<polygon points="1397,1348.6 1397,1359.4 1385.6,1354"/>
</g></svg>
<div class="t" style="left:60.3px;top:754.1px;font-size:28.5px;color:#111;transform-origin:0 50%;transform:scaleX(0.925);-webkit-text-stroke:0.6px #111;">HEIGHT</div>
<div class="t" style="left:60.8px;top:1340.2px;font-size:26.5px;color:#111;transform-origin:0 50%;transform:scaleX(0.9);-webkit-text-stroke:0.6px #111;">WEIGHT</div>
<div class="t" style="left:62.3px;top:814.9px;font-size:25.5px;color:#111;transform-origin:0 50%;transform:scaleX(0.92);-webkit-text-stroke:0.6px #111;">150</div>
<div class="t" style="left:147.2px;top:814.9px;font-size:25.5px;color:#111;transform-origin:0 50%;transform:scaleX(0.92);-webkit-text-stroke:0.6px #111;letter-spacing:1.3px;">4′9″</div>
<div class="t" style="left:62.3px;top:858.2px;font-size:25.5px;color:#111;transform-origin:0 50%;transform:scaleX(0.92);-webkit-text-stroke:0.6px #111;">155</div>
<div class="t" style="left:147.2px;top:858.2px;font-size:25.5px;color:#111;transform-origin:0 50%;transform:scaleX(0.92);-webkit-text-stroke:0.6px #111;letter-spacing:1.3px;">5′1″</div>
<div class="t" style="left:62.3px;top:901.6px;font-size:25.5px;color:#111;transform-origin:0 50%;transform:scaleX(0.92);-webkit-text-stroke:0.6px #111;">160</div>
<div class="t" style="left:147.2px;top:901.6px;font-size:25.5px;color:#111;transform-origin:0 50%;transform:scaleX(0.92);-webkit-text-stroke:0.6px #111;letter-spacing:1.3px;">5′2″</div>
<div class="t" style="left:62.3px;top:945.0px;font-size:25.5px;color:#111;transform-origin:0 50%;transform:scaleX(0.92);-webkit-text-stroke:0.6px #111;">165</div>
<div class="t" style="left:147.2px;top:945.0px;font-size:25.5px;color:#111;transform-origin:0 50%;transform:scaleX(0.92);-webkit-text-stroke:0.6px #111;letter-spacing:1.3px;">5′4″</div>
<div class="t" style="left:62.3px;top:988.4px;font-size:25.5px;color:#111;transform-origin:0 50%;transform:scaleX(0.92);-webkit-text-stroke:0.6px #111;">170</div>
<div class="t" style="left:147.2px;top:988.4px;font-size:25.5px;color:#111;transform-origin:0 50%;transform:scaleX(0.92);-webkit-text-stroke:0.6px #111;letter-spacing:1.3px;">5′6″</div>
<div class="t" style="left:62.3px;top:1031.8px;font-size:25.5px;color:#111;transform-origin:0 50%;transform:scaleX(0.92);-webkit-text-stroke:0.6px #111;">175</div>
<div class="t" style="left:147.2px;top:1031.8px;font-size:25.5px;color:#111;transform-origin:0 50%;transform:scaleX(0.92);-webkit-text-stroke:0.6px #111;letter-spacing:1.3px;">5′7″</div>
<div class="t" style="left:62.3px;top:1075.1px;font-size:25.5px;color:#111;transform-origin:0 50%;transform:scaleX(0.92);-webkit-text-stroke:0.6px #111;">180</div>
<div class="t" style="left:147.2px;top:1075.1px;font-size:25.5px;color:#111;transform-origin:0 50%;transform:scaleX(0.92);-webkit-text-stroke:0.6px #111;letter-spacing:1.3px;">5′9″</div>
<div class="t" style="left:62.3px;top:1118.5px;font-size:25.5px;color:#111;transform-origin:0 50%;transform:scaleX(0.92);-webkit-text-stroke:0.6px #111;">185</div>
<div class="t" style="left:147.2px;top:1118.5px;font-size:25.5px;color:#111;transform-origin:0 50%;transform:scaleX(0.92);-webkit-text-stroke:0.6px #111;letter-spacing:1.3px;">6′1″</div>
<div class="t" style="left:62.3px;top:1161.9px;font-size:25.5px;color:#111;transform-origin:0 50%;transform:scaleX(0.92);-webkit-text-stroke:0.6px #111;">190</div>
<div class="t" style="left:147.2px;top:1161.9px;font-size:25.5px;color:#111;transform-origin:0 50%;transform:scaleX(0.92);-webkit-text-stroke:0.6px #111;letter-spacing:1.3px;">6′2″</div>
<div class="t" style="left:62.3px;top:1205.3px;font-size:25.5px;color:#111;transform-origin:0 50%;transform:scaleX(0.92);-webkit-text-stroke:0.6px #111;">195</div>
<div class="t" style="left:147.2px;top:1205.3px;font-size:25.5px;color:#111;transform-origin:0 50%;transform:scaleX(0.92);-webkit-text-stroke:0.6px #111;letter-spacing:1.3px;">6′4″</div>
<div class="t" style="left:62.3px;top:1248.7px;font-size:25.5px;color:#111;transform-origin:0 50%;transform:scaleX(0.92);-webkit-text-stroke:0.6px #111;">200</div>
<div class="t" style="left:147.2px;top:1248.7px;font-size:25.5px;color:#111;transform-origin:0 50%;transform:scaleX(0.92);-webkit-text-stroke:0.6px #111;letter-spacing:1.3px;">6′6″</div>
<div class="t" style="left:213.8px;top:1315.0px;font-size:26px;color:#111;transform-origin:0 50%;transform:scaleX(1.0);-webkit-text-stroke:0.6px #111;">lb</div>
<div class="t" style="left:211px;top:1361.5px;font-size:26px;color:#111;transform-origin:0 50%;transform:scaleX(1.0);-webkit-text-stroke:0.6px #111;">kg</div>
<div class="t" style="left:0px;top:1310.8px;width:600px;text-align:center;font-size:25.5px;color:#111;transform:scaleX(1.0);-webkit-text-stroke:0.6px #111;">110</div>
<div class="t" style="left:0px;top:1376.2px;width:600px;text-align:center;font-size:25.5px;color:#111;transform:scaleX(1.0);-webkit-text-stroke:0.6px #111;">50</div>
<div class="t" style="left:89px;top:1310.8px;width:600px;text-align:center;font-size:25.5px;color:#111;transform:scaleX(1.0);-webkit-text-stroke:0.6px #111;">121</div>
<div class="t" style="left:89px;top:1376.2px;width:600px;text-align:center;font-size:25.5px;color:#111;transform:scaleX(1.0);-webkit-text-stroke:0.6px #111;">55</div>
<div class="t" style="left:174.5px;top:1310.8px;width:600px;text-align:center;font-size:25.5px;color:#111;transform:scaleX(1.0);-webkit-text-stroke:0.6px #111;">132</div>
<div class="t" style="left:174.5px;top:1376.2px;width:600px;text-align:center;font-size:25.5px;color:#111;transform:scaleX(1.0);-webkit-text-stroke:0.6px #111;">60</div>
<div class="t" style="left:255px;top:1310.8px;width:600px;text-align:center;font-size:25.5px;color:#111;transform:scaleX(1.0);-webkit-text-stroke:0.6px #111;">143</div>
<div class="t" style="left:255px;top:1376.2px;width:600px;text-align:center;font-size:25.5px;color:#111;transform:scaleX(1.0);-webkit-text-stroke:0.6px #111;">65</div>
<div class="t" style="left:342px;top:1310.8px;width:600px;text-align:center;font-size:25.5px;color:#111;transform:scaleX(1.0);-webkit-text-stroke:0.6px #111;">154</div>
<div class="t" style="left:342px;top:1376.2px;width:600px;text-align:center;font-size:25.5px;color:#111;transform:scaleX(1.0);-webkit-text-stroke:0.6px #111;">70</div>
<div class="t" style="left:419.5px;top:1310.8px;width:600px;text-align:center;font-size:25.5px;color:#111;transform:scaleX(1.0);-webkit-text-stroke:0.6px #111;">165</div>
<div class="t" style="left:419.5px;top:1376.2px;width:600px;text-align:center;font-size:25.5px;color:#111;transform:scaleX(1.0);-webkit-text-stroke:0.6px #111;">75</div>
<div class="t" style="left:504px;top:1310.8px;width:600px;text-align:center;font-size:25.5px;color:#111;transform:scaleX(1.0);-webkit-text-stroke:0.6px #111;">176</div>
<div class="t" style="left:504px;top:1376.2px;width:600px;text-align:center;font-size:25.5px;color:#111;transform:scaleX(1.0);-webkit-text-stroke:0.6px #111;">80</div>
<div class="t" style="left:582px;top:1310.8px;width:600px;text-align:center;font-size:25.5px;color:#111;transform:scaleX(1.0);-webkit-text-stroke:0.6px #111;">187</div>
<div class="t" style="left:582px;top:1376.2px;width:600px;text-align:center;font-size:25.5px;color:#111;transform:scaleX(1.0);-webkit-text-stroke:0.6px #111;">85</div>
<div class="t" style="left:662px;top:1310.8px;width:600px;text-align:center;font-size:25.5px;color:#111;transform:scaleX(1.0);-webkit-text-stroke:0.6px #111;">198</div>
<div class="t" style="left:662px;top:1376.2px;width:600px;text-align:center;font-size:25.5px;color:#111;transform:scaleX(1.0);-webkit-text-stroke:0.6px #111;">90</div>
<div class="t" style="left:750.5px;top:1310.8px;width:600px;text-align:center;font-size:25.5px;color:#111;transform:scaleX(1.0);-webkit-text-stroke:0.6px #111;">209</div>
<div class="t" style="left:750.5px;top:1376.2px;width:600px;text-align:center;font-size:25.5px;color:#111;transform:scaleX(1.0);-webkit-text-stroke:0.6px #111;">95</div>
<div class="t" style="left:825.8px;top:1310.8px;width:600px;text-align:center;font-size:25.5px;color:#111;transform:scaleX(1.0);-webkit-text-stroke:0.6px #111;">220</div>
<div class="t" style="left:825.8px;top:1376.2px;width:600px;text-align:center;font-size:25.5px;color:#111;transform:scaleX(1.0);-webkit-text-stroke:0.6px #111;">100</div>
<div class="t" style="left:900.7px;top:1310.8px;width:600px;text-align:center;font-size:25.5px;color:#111;transform:scaleX(1.0);-webkit-text-stroke:0.6px #111;">231</div>
<div class="t" style="left:900.7px;top:1376.2px;width:600px;text-align:center;font-size:25.5px;color:#111;transform:scaleX(1.0);-webkit-text-stroke:0.6px #111;">105</div>
<div class="t" style="left:979.9000000000001px;top:1310.8px;width:600px;text-align:center;font-size:25.5px;color:#111;transform:scaleX(1.0);-webkit-text-stroke:0.6px #111;">242</div>
<div class="t" style="left:979.9000000000001px;top:1376.2px;width:600px;text-align:center;font-size:25.5px;color:#111;transform:scaleX(1.0);-webkit-text-stroke:0.6px #111;">110</div>
<div class="t" style="left:1058px;top:1310.8px;width:600px;text-align:center;font-size:25.5px;color:#111;transform:scaleX(1.0);-webkit-text-stroke:0.6px #111;">254</div>
<div class="t" style="left:1058px;top:1376.2px;width:600px;text-align:center;font-size:25.5px;color:#111;transform:scaleX(1.0);-webkit-text-stroke:0.6px #111;">115</div>
</body></html>
